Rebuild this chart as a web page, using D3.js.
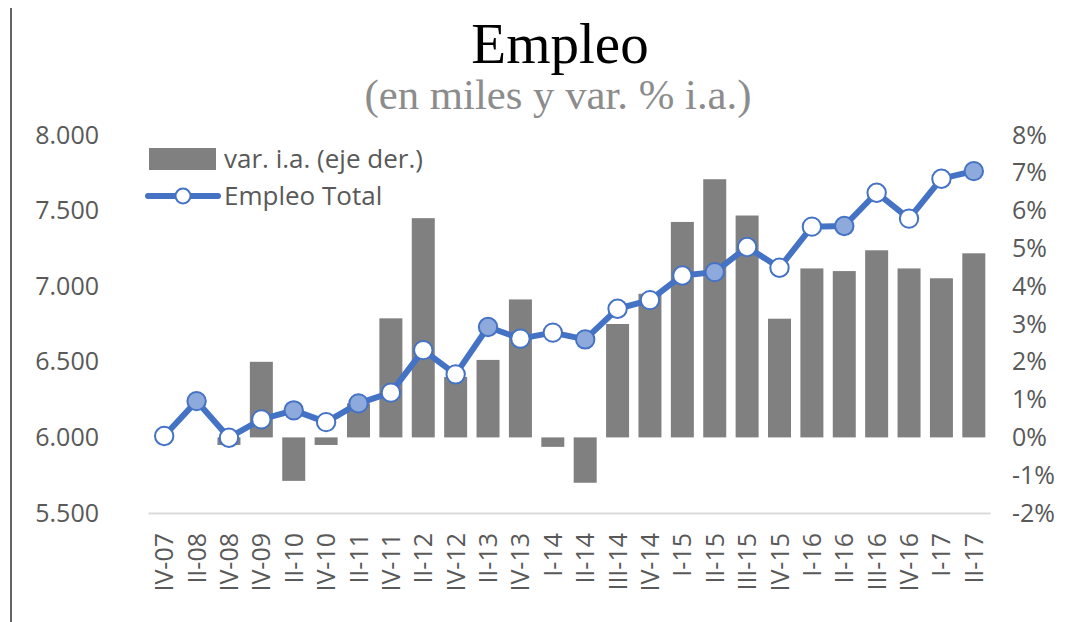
<!DOCTYPE html>
<html>
<head>
<meta charset="utf-8">
<script src="https://cdn.jsdelivr.net/npm/d3@7"></script>
<style>
  html, body { margin: 0; padding: 0; background: #ffffff; }
  svg { display: block; }
</style>
</head>
<body>
<svg id="chart" width="1065" height="622"></svg>
<script>
// ---- Data ----
const categories = ["IV-07","II-08","IV-08","IV-09","II-10","IV-10","II-11","IV-11","II-12","IV-12","II-13","IV-13","I-14","II-14","III-14","IV-14","I-15","II-15","III-15","IV-15","I-16","II-16","III-16","IV-16","I-17","II-17"];
const empleoTotal = [6009, 6240, 5998, 6119, 6179, 6101, 6225, 6296, 6577, 6417, 6730, 6653, 6693, 6648, 6851, 6908, 7071, 7093, 7259, 7122, 7394, 7398, 7618, 7447, 7711, 7761];
const varIA = [null, null, -0.2, 2.0, -1.15, -0.2, 0.9, 3.15, 5.8, 1.6, 2.05, 3.65, -0.25, -1.2, 3.0, 3.8, 5.7, 6.83, 5.87, 3.14, 4.47, 4.4, 4.95, 4.47, 4.21, 4.87];
const highlighted = [0,1,0,0,1,0,1,0,0,0,1,0,0,1,0,0,0,1,0,0,0,1,0,0,0,1];
const leftTicks = [5500, 6000, 6500, 7000, 7500, 8000];
const rightTicks = [-2, -1, 0, 1, 2, 3, 4, 5, 6, 7, 8];
const titleText = "Empleo";
const subtitleText = "(en miles y var. % i.a.)";
const legendLabels = ["var. i.a. (eje der.)", "Empleo Total"];

// ---- Setup ----
const svg = d3.select("#chart");
const W = 1065, H = 622;
const plot = { left: 148, right: 990, top: 135, bottom: 513 };

const locale = d3.formatLocale({ decimal: ",", thousands: ".", grouping: [3], currency: ["$", ""], minus: "-" });
const fmtLeft = locale.format(",");
const fmtRight = d => locale.format("d")(d) + "%";

const x = d3.scaleBand().domain(categories).range([plot.left, plot.right]).paddingInner(0.29).paddingOuter(0.145);
const yL = d3.scaleLinear().domain([5500, 8000]).range([plot.bottom, plot.top]);
const yR = d3.scaleLinear().domain([-2, 8]).range([plot.bottom, plot.top]);

const textColor = "#595959";
const barColor = "#808080";
const lineColor = "#4472C4";
const markerFill = "#8EA9DB";
const font = "'Open Sans', 'Noto Sans', sans-serif";

svg.append("rect").attr("width", W).attr("height", H).attr("fill", "#fff");

// left frame line
svg.append("line").attr("x1", 11).attr("x2", 11).attr("y1", 8).attr("y2", H)
  .attr("stroke", "#333").attr("stroke-width", 1.5);

// Title
svg.append("text").attr("x", 560).attr("y", 63).attr("text-anchor", "middle")
  .attr("font-family", "'Liberation Serif', serif").attr("font-size", 57).attr("fill", "#000")
  .text(titleText);
svg.append("text").attr("x", 558).attr("y", 109).attr("text-anchor", "middle")
  .attr("font-family", "'Liberation Serif', serif").attr("font-size", 43).attr("fill", "#8c8c8c")
  .attr("textLength", 387).attr("lengthAdjust", "spacingAndGlyphs")
  .text(subtitleText);

// Axes
const axL = svg.append("g").attr("transform", `translate(${99},0)`)
  .call(d3.axisLeft(yL).tickValues(leftTicks).tickFormat(fmtLeft).tickSize(0).tickPadding(0));
axL.select(".domain").remove();
axL.selectAll("text").attr("font-family", font).attr("font-size", 25).attr("fill", textColor);

const axR = svg.append("g").attr("transform", `translate(${1012},0)`)
  .call(d3.axisRight(yR).tickValues(rightTicks).tickFormat(fmtRight).tickSize(0).tickPadding(0));
axR.select(".domain").remove();
axR.selectAll("text").attr("font-family", font).attr("font-size", 25).attr("fill", textColor);

// Bars
svg.append("g").selectAll("rect")
  .data(categories.map((c, i) => ({ c, v: varIA[i] })).filter(d => d.v !== null))
  .join("rect")
  .attr("x", d => x(d.c))
  .attr("width", x.bandwidth())
  .attr("y", d => Math.min(yR(d.v), yR(0)))
  .attr("height", d => Math.abs(yR(d.v) - yR(0)))
  .attr("fill", barColor);

// Baseline (category axis)
const axB = svg.append("g").attr("transform", `translate(0,${plot.bottom})`)
  .call(d3.axisBottom(x).tickSize(0).tickPadding(0));
axB.select(".domain").attr("stroke", "#d9d9d9").attr("stroke-width", 2);
axB.selectAll("text")
  .attr("font-family", font).attr("font-size", 25).attr("fill", textColor)
  .attr("text-anchor", "end")
  .attr("transform", "rotate(-90)")
  .attr("x", -20).attr("y", 0).attr("dy", "0.36em");

// Line
const pts = categories.map((c, i) => ({ c, v: empleoTotal[i], h: highlighted[i] }));
const line = d3.line().x(d => x(d.c) + x.bandwidth() / 2).y(d => yL(d.v));
svg.append("path").datum(pts).attr("d", line)
  .attr("fill", "none").attr("stroke", lineColor).attr("stroke-width", 6).attr("stroke-linejoin", "round");
svg.append("g").selectAll("circle").data(pts).join("circle")
  .attr("cx", d => x(d.c) + x.bandwidth() / 2)
  .attr("cy", d => yL(d.v))
  .attr("r", 9.2)
  .attr("fill", d => d.h ? markerFill : "#fff")
  .attr("stroke", lineColor).attr("stroke-width", 2);

// Legend
const lg = svg.append("g");
lg.append("rect").attr("x", 149).attr("y", 148).attr("width", 67).attr("height", 22).attr("fill", barColor);
lg.append("text").attr("x", 224).attr("y", 159).attr("dy", "0.35em")
  .attr("font-family", font).attr("font-size", 26).attr("fill", textColor).text(legendLabels[0]);
lg.append("line").attr("x1", 148).attr("x2", 218).attr("y1", 196).attr("y2", 196)
  .attr("stroke", lineColor).attr("stroke-width", 6).attr("stroke-linecap", "round");
lg.append("circle").attr("cx", 183).attr("cy", 196).attr("r", 7.5)
  .attr("fill", "#fff").attr("stroke", lineColor).attr("stroke-width", 2);
lg.append("text").attr("x", 224).attr("y", 196).attr("dy", "0.35em")
  .attr("font-family", font).attr("font-size", 26).attr("fill", textColor).text(legendLabels[1]);
</script>
</body>
</html>
